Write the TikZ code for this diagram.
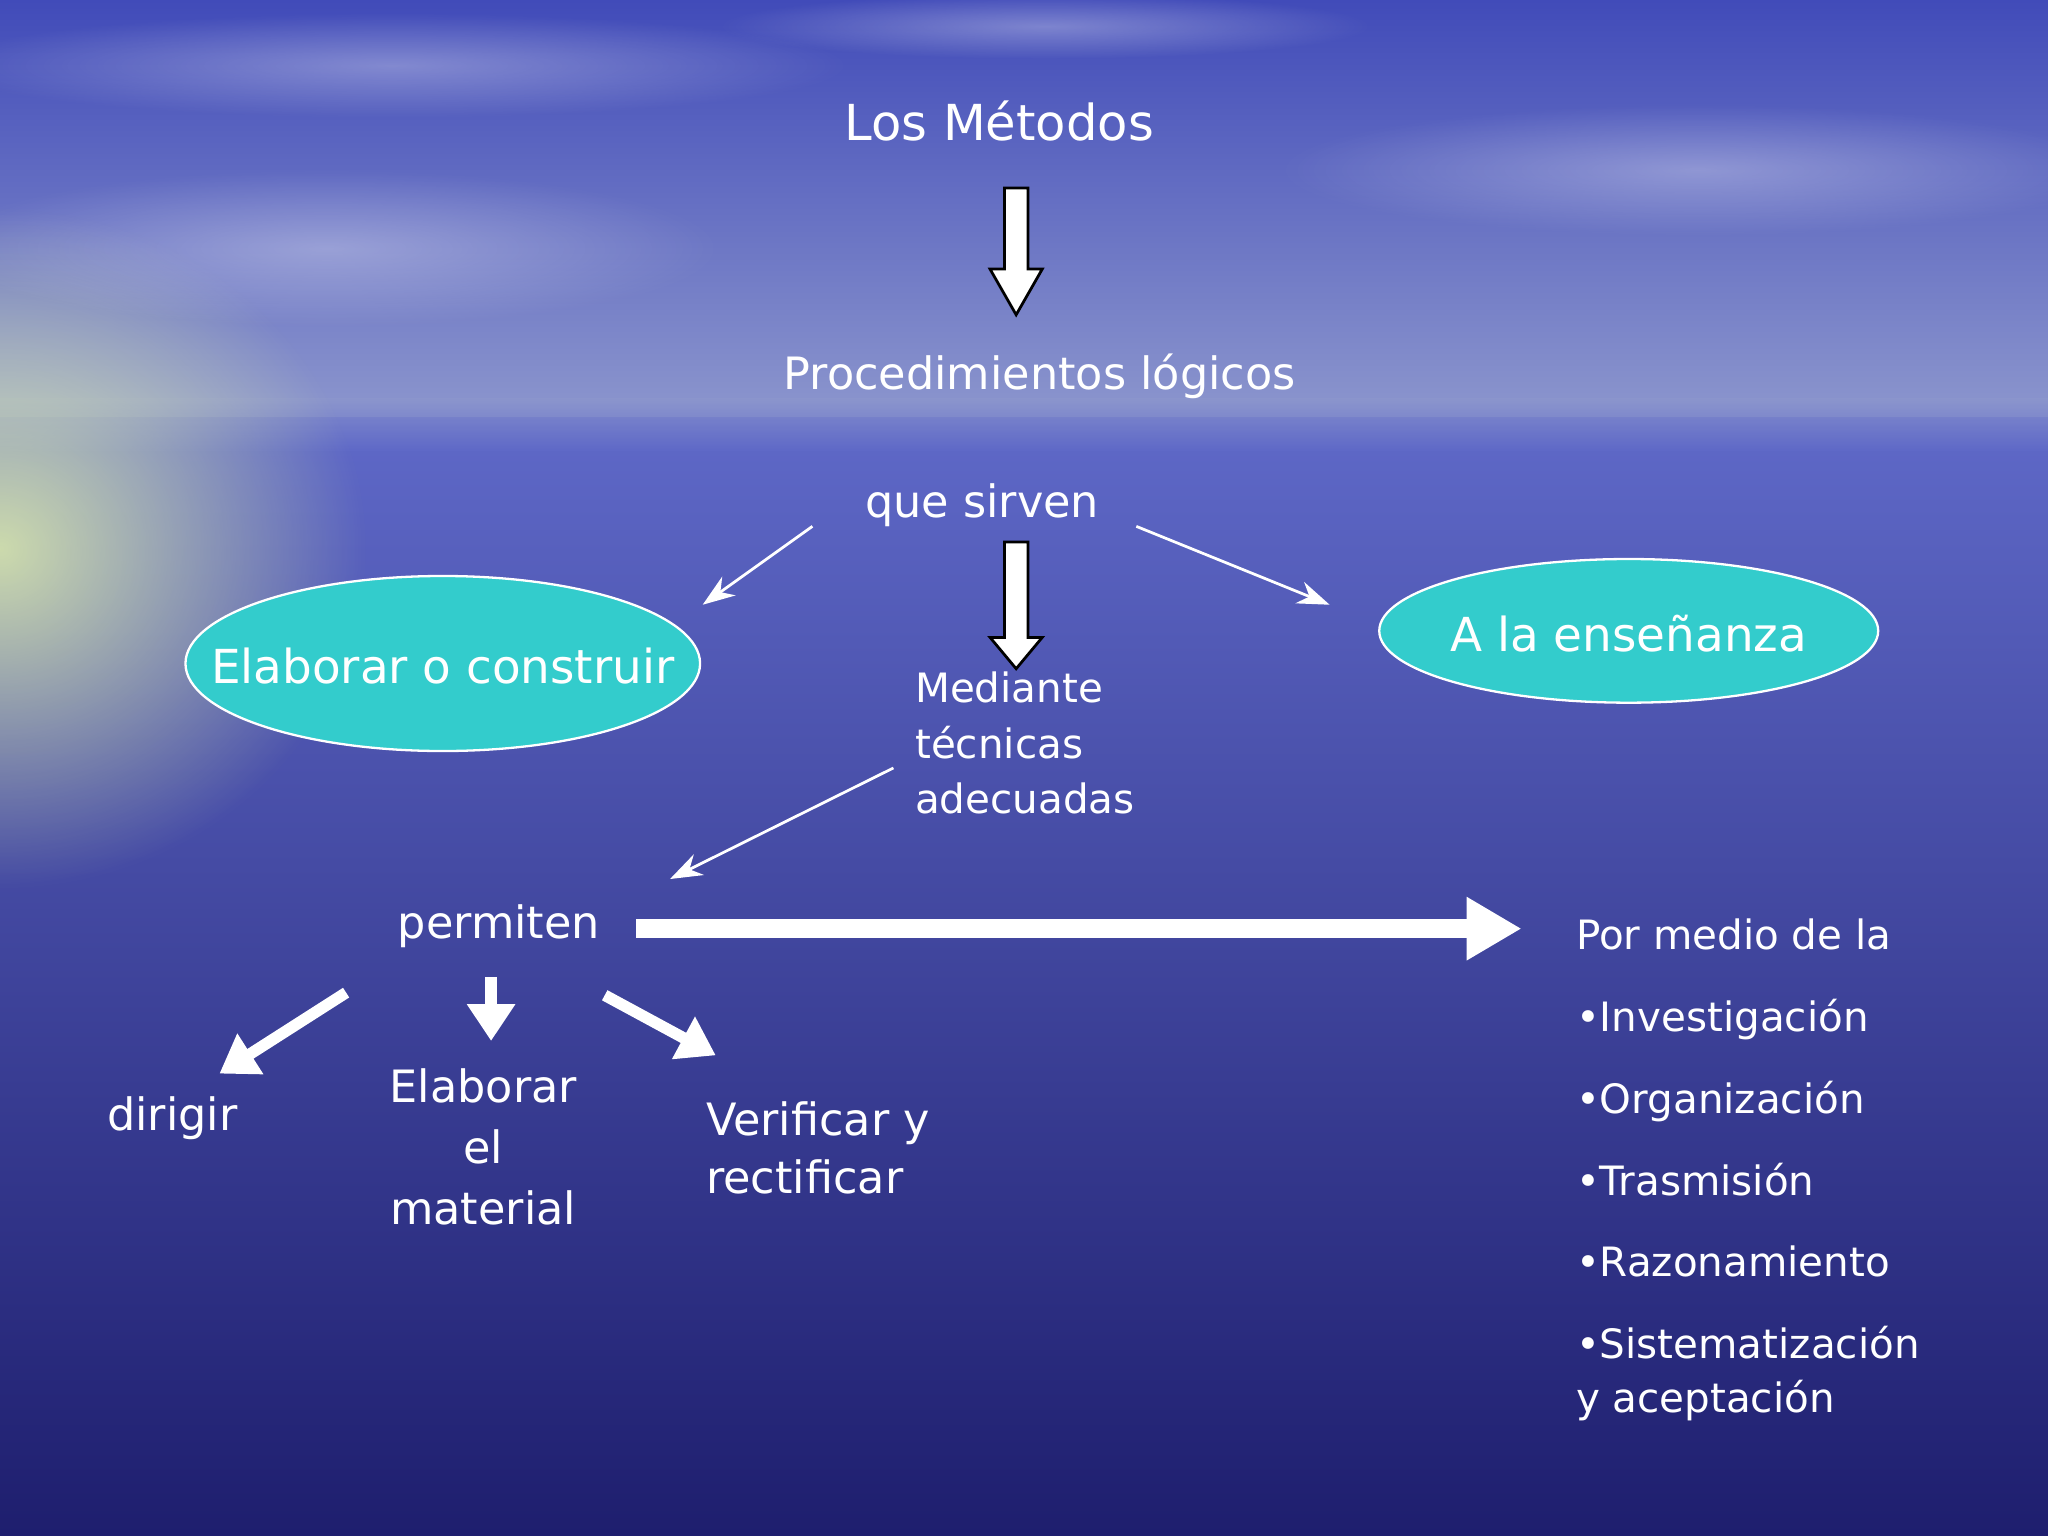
\documentclass[tikz,border=0pt]{standalone}
\usepackage{fontspec}
\setmainfont{DejaVu Sans}
\usetikzlibrary{arrows.meta,fadings}
\definecolor{turq}{HTML}{33CCCC}
\tikzfading[name=myglow, inner color=transparent!0, outer color=transparent!100]
\begin{document}
\begin{tikzpicture}[x=0.01cm,y=-0.01cm,
  txt/.style={text=white,font=\fontsize{9.7}{12}\selectfont,inner sep=0pt},
  big/.style={text=white,font=\fontsize{10.8}{13}\selectfont,inner sep=0pt},
  thin/.style={draw=white,line width=0.6pt,-{Stealth[length=7pt,width=5pt]}},
  thick/.style={draw=white,line width=2.5pt,-{Triangle[length=8pt,width=10pt]}},
  ell/.style={draw=white,fill=turq,line width=0.5pt},
  etxt/.style={text=white,font=\fontsize{10.2}{12}\selectfont,inner sep=0pt},
  fat/.style={draw=black,fill=white,line width=0.6pt}]
\useasboundingbox (0,0) rectangle (1568,1176);
\shade[top color={rgb,255:red,65;green,75;blue,185},bottom color={rgb,255:red,140;green,150;blue,205}] (0,0) rectangle (1568,320);
\shade[top color={rgb,255:red,95;green,105;blue,200},bottom color={rgb,255:red,30;green,30;blue,110}] (0,320) rectangle (1568,1176);
\shade[top color={rgb,255:red,140;green,150;blue,205},bottom color={rgb,255:red,95;green,105;blue,200},opacity=0.8] (0,305) rectangle (1568,345);
\begin{scope}
\clip (0,0) rectangle (1568,1176);
\fill[color={rgb,255:red,225;green,240;blue,170},path fading=myglow,opacity=0.85] (0,420) ellipse (280 and 260);
\end{scope}
\begin{scope}[opacity=0.3]
\fill[white,path fading=myglow] (300,50) ellipse (350 and 40);
\fill[white,path fading=myglow] (1300,130) ellipse (320 and 50);
\fill[white,path fading=myglow] (250,190) ellipse (300 and 60);
\fill[white,path fading=myglow] (800,20) ellipse (250 and 25);
\end{scope}
\node[big] (met) at (765,93) {Los Métodos};
\node[txt] (proc) at (796,288) {Procedimientos lógicos};
\node[txt] (que) at (752,387) {que sirven};
\draw[ell] (339,508) ellipse (197 and 67);
\node[etxt] (elab) at (339,510) {Elaborar o construir};
\draw[ell] (1247,483) ellipse (191 and 55);
\node[etxt] (ens) at (1247,485) {A la enseñanza};
\node[txt,align=left,anchor=north west,font=\fontsize{8.8}{12}\selectfont] (med) at (700,514) {Mediante\\técnicas\\adecuadas};
\node[txt] (perm) at (382,709) {permiten};
\node[txt] (dir) at (132,856) {dirigir};
\node[txt,align=center,font=\fontsize{9.7}{13.3}\selectfont] (elm) at (370,878) {Elaborar\\el\\material};
\node[txt,align=left,anchor=west,font=\fontsize{9.7}{12.5}\selectfont] (ver) at (540,879) {Verificar y\\rectificar};
\node[txt,align=left,anchor=north west,font=\fontsize{8.8}{17.8}\selectfont] (list) at (1206,703) {Por medio de la\\•Investigación\\•Organización\\•Trasmisión\\•Razonamiento\\•Sistematización\\[-6pt]y aceptación};
\draw[fat] (769,144) -- (787,144) -- (787,206) -- (798,206) -- (778,241) -- (758,206) -- (769,206) -- cycle;
\draw[fat] (769,415) -- (787,415) -- (787,488) -- (798,488) -- (778,512) -- (758,488) -- (769,488) -- cycle;
\coordinate (t1s) at (622,403); \coordinate (t1e) at (538,463);
\coordinate (t2s) at (870,403); \coordinate (t2e) at (1018,463);
\coordinate (t3s) at (684,588); \coordinate (t3e) at (513,673);
\draw[thin] (t1s) -- (t1e);
\draw[thin] (t2s) -- (t2e);
\draw[thin] (t3s) -- (t3e);
\coordinate (d1) at (265,760); \coordinate (d2) at (168,822);
\coordinate (e1) at (376,748); \coordinate (e2) at (376,797);
\coordinate (v1) at (463,762); \coordinate (v2) at (548,808);
\draw[thick] (d1) -- (d2);
\draw[thick] (e1) -- (e2);
\draw[thick] (v1) -- (v2);
\coordinate (b1) at (487,711); \coordinate (b2) at (1165,711);
\draw[draw=white,line width=4pt,-{Triangle[length=12pt,width=13pt]}] (b1) -- (b2);
\end{tikzpicture}
\end{document}
